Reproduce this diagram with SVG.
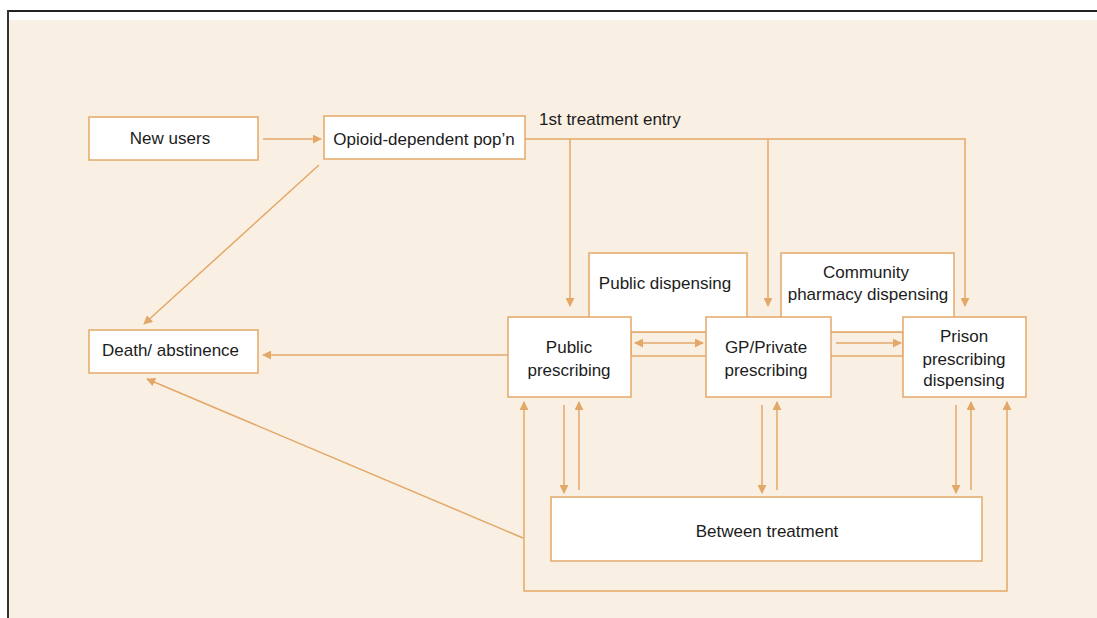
<svg xmlns="http://www.w3.org/2000/svg" width="1097" height="618" viewBox="0 0 1097 618">
  <style>
    .box { fill: #ffffff; stroke: #e3a868; stroke-width: 1.5; }
    .lbl { font-family: "Liberation Sans", Arial, sans-serif; font-size: 17px; fill: #1c1c1c; text-anchor: middle; }
    .conn { fill: none; stroke: #e3a868; stroke-width: 1.5; }
  </style>
  <defs>
    <marker id="ah" viewBox="0 0 10 10" refX="9" refY="5" markerWidth="9" markerHeight="9" markerUnits="userSpaceOnUse" orient="auto-start-reverse">
      <path d="M0,0 L10,5 L0,10 z" fill="#e3a868"/>
    </marker>
  </defs>
  <rect x="0" y="0" width="1097" height="618" fill="#ffffff"/>
  <rect x="9" y="20" width="1088" height="598" fill="#faefe3"/>
  <line x1="7" y1="11" x2="1097" y2="11" stroke="#222" stroke-width="2"/>
  <line x1="8" y1="10" x2="8" y2="618" stroke="#333" stroke-width="2"/>

  <g id="channel">
    <rect x="631" y="332" width="272" height="24" fill="none" stroke="#e3a868" stroke-width="1.5"/>
  </g>

  <g id="connectors">
    <line class="conn" x1="263" y1="139" x2="321" y2="139" marker-end="url(#ah)"/>
    <line class="conn" x1="319" y1="165" x2="144" y2="324" marker-end="url(#ah)"/>
    <polyline class="conn" points="525,139 965,139 965,306" marker-end="url(#ah)"/>
    <line class="conn" x1="570" y1="139" x2="570" y2="306" marker-end="url(#ah)"/>
    <line class="conn" x1="768" y1="139" x2="768" y2="306" marker-end="url(#ah)"/>
    <line class="conn" x1="508" y1="355" x2="263" y2="355" marker-end="url(#ah)"/>
    <line class="conn" x1="523" y1="538" x2="147" y2="379" marker-end="url(#ah)"/>
    <line class="conn" x1="635" y1="343" x2="703" y2="343" marker-start="url(#ah)" marker-end="url(#ah)"/>
    <line class="conn" x1="836" y1="343" x2="901" y2="343" marker-end="url(#ah)"/>
    <line class="conn" x1="564" y1="405" x2="564" y2="493" marker-end="url(#ah)"/>
    <line class="conn" x1="579" y1="490" x2="579" y2="402" marker-end="url(#ah)"/>
    <line class="conn" x1="762" y1="405" x2="762" y2="493" marker-end="url(#ah)"/>
    <line class="conn" x1="777" y1="490" x2="777" y2="402" marker-end="url(#ah)"/>
    <line class="conn" x1="956" y1="405" x2="956" y2="493" marker-end="url(#ah)"/>
    <line class="conn" x1="971" y1="490" x2="971" y2="402" marker-end="url(#ah)"/>
    <polyline class="conn" points="524,402 524,591 1007,591 1007,402" marker-start="url(#ah)" marker-end="url(#ah)"/>
  </g>

  <text class="lbl" x="539" y="125" style="text-anchor:start">1st treatment entry</text>

  <g id="new-users">
    <rect class="box" x="89" y="117" width="169" height="43"/>
    <text class="lbl" x="170" y="144">New users</text>
  </g>
  <g id="opioid-pop">
    <rect class="box" x="324" y="116" width="201" height="43"/>
    <text class="lbl" x="424" y="145">Opioid-dependent pop’n</text>
  </g>
  <g id="death">
    <rect class="box" x="89" y="330" width="169" height="43"/>
    <text class="lbl" x="102" y="356" style="text-anchor:start">Death/ abstinence</text>
  </g>
  <g id="public-dispensing">
    <rect class="box" x="589" y="253" width="158" height="79"/>
    <text class="lbl" x="665" y="289">Public dispensing</text>
  </g>
  <g id="community-dispensing">
    <rect class="box" x="781" y="253" width="173" height="79"/>
    <text class="lbl" x="866" y="278">Community</text>
    <text class="lbl" x="868" y="300">pharmacy dispensing</text>
  </g>
  <g id="public-prescribing">
    <rect class="box" x="508" y="317" width="123" height="80"/>
    <text class="lbl" x="569" y="353">Public</text>
    <text class="lbl" x="569" y="376">prescribing</text>
  </g>
  <g id="gp-private">
    <rect class="box" x="706" y="317" width="125" height="80"/>
    <text class="lbl" x="766" y="353">GP/Private</text>
    <text class="lbl" x="766" y="376">prescribing</text>
  </g>
  <g id="prison">
    <rect class="box" x="903" y="317" width="123" height="80"/>
    <text class="lbl" x="964" y="342">Prison</text>
    <text class="lbl" x="964" y="365">prescribing</text>
    <text class="lbl" x="964" y="386">dispensing</text>
  </g>
  <g id="between-treatment">
    <rect class="box" x="551" y="497" width="431" height="64"/>
    <text class="lbl" x="767" y="537">Between treatment</text>
  </g>
</svg>
